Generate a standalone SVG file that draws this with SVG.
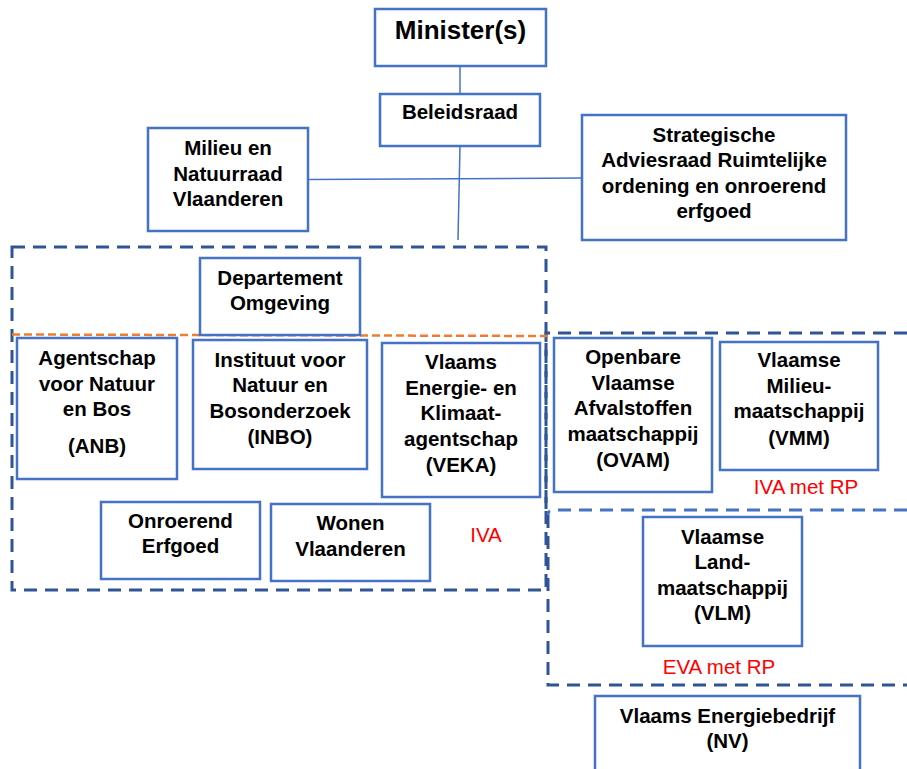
<svg xmlns="http://www.w3.org/2000/svg" width="907" height="769" viewBox="0 0 907 769">
<style>
.box{fill:#fff;stroke:#4472C4;stroke-width:2.5}
.t{font-family:"Liberation Sans",Arial,sans-serif;font-weight:bold;font-size:20.5px;fill:#000;text-anchor:middle}
.red{font-family:"Liberation Sans",Arial,sans-serif;font-size:20.5px;fill:#FF0000;text-anchor:middle}
.grp{fill:none;stroke:#2F5597;stroke-width:3;stroke-dasharray:13 8}
.grpl{fill:none;stroke:#4472C4;stroke-width:3;stroke-dasharray:13 8}
.orange{fill:none;stroke:#ED7D31;stroke-width:2.5;stroke-dasharray:8 4}
.conn{fill:none;stroke:#4472C4;stroke-width:1.5}
</style>
<rect width="907" height="769" fill="#fff"/>
<g id="groups">
<rect class="grp" x="12" y="247" width="534" height="343"/>
<path class="grp" d="M907 333 H546 V509"/>
<path class="grpl" d="M907 510 H553 Q548 510 548 515"/>
<path class="grp" d="M548 515 V685 H907"/>
<path class="orange" d="M12 334.5 L548 336"/>
</g>
<g id="connectors">
<line class="conn" x1="460" y1="67" x2="460" y2="94"/>
<line class="conn" x1="460" y1="146" x2="458" y2="240"/>
<line class="conn" x1="308" y1="179.5" x2="582" y2="178"/>
</g>
<g id="minister">
<rect class="box" x="375" y="9" width="171" height="57"/>
<text class="t" x="460.5" y="39" style="font-size:26px">Minister(s)</text>
</g>
<g id="beleidsraad">
<rect class="box" x="380" y="94" width="160" height="52"/>
<text class="t" x="460" y="119">Beleidsraad</text>
</g>
<g id="minaraad">
<rect class="box" x="148" y="128" width="160" height="103"/>
<text class="t" x="228" y="155">Milieu en</text>
<text class="t" x="228" y="180.5">Natuurraad</text>
<text class="t" x="228" y="206">Vlaanderen</text>
</g>
<g id="sarro">
<rect class="box" x="582" y="115" width="264" height="125"/>
<text class="t" x="714" y="141.5">Strategische</text>
<text class="t" x="714" y="167">Adviesraad Ruimtelijke</text>
<text class="t" x="714" y="192.5">ordening en onroerend</text>
<text class="t" x="714" y="218">erfgoed</text>
</g>
<g id="departement">
<rect class="box" x="200" y="258" width="160" height="77"/>
<text class="t" x="280" y="285">Departement</text>
<text class="t" x="280" y="310">Omgeving</text>
</g>
<g id="anb">
<rect class="box" x="17" y="338" width="160" height="141"/>
<text class="t" x="97" y="365">Agentschap</text>
<text class="t" x="97" y="390.5">voor Natuur</text>
<text class="t" x="97" y="416">en Bos</text>
<text class="t" x="97" y="453">(ANB)</text>
</g>
<g id="inbo">
<rect class="box" x="193" y="340" width="174" height="129"/>
<text class="t" x="280" y="366.5">Instituut voor</text>
<text class="t" x="280" y="392">Natuur en</text>
<text class="t" x="280" y="417.5">Bosonderzoek</text>
<text class="t" x="280" y="444">(INBO)</text>
</g>
<g id="veka">
<rect class="box" x="382" y="343" width="158" height="154"/>
<text class="t" x="461" y="369">Vlaams</text>
<text class="t" x="461" y="394.5">Energie- en</text>
<text class="t" x="461" y="420">Klimaat-</text>
<text class="t" x="461" y="445.5">agentschap</text>
<text class="t" x="461" y="471.5">(VEKA)</text>
</g>
<g id="ovam">
<rect class="box" x="554" y="338" width="158" height="154"/>
<text class="t" x="633" y="364">Openbare</text>
<text class="t" x="633" y="389.5">Vlaamse</text>
<text class="t" x="633" y="415">Afvalstoffen</text>
<text class="t" x="633" y="440.5">maatschappij</text>
<text class="t" x="633" y="466.5">(OVAM)</text>
</g>
<g id="vmm">
<rect class="box" x="720" y="342" width="158" height="128"/>
<text class="t" x="799" y="366.5">Vlaamse</text>
<text class="t" x="799" y="392.5">Milieu-</text>
<text class="t" x="799" y="418">maatschappij</text>
<text class="t" x="799" y="444.5">(VMM)</text>
</g>
<g id="label-iva-rp">
<text class="red" x="806" y="494">IVA met RP</text>
</g>
<g id="onroerend">
<rect class="box" x="101" y="502" width="159" height="77"/>
<text class="t" x="180.5" y="527.5">Onroerend</text>
<text class="t" x="180.5" y="553">Erfgoed</text>
</g>
<g id="wonen">
<rect class="box" x="271" y="504" width="159" height="77"/>
<text class="t" x="350.5" y="530">Wonen</text>
<text class="t" x="350.5" y="555.5">Vlaanderen</text>
</g>
<g id="label-iva">
<text class="red" x="486" y="542">IVA</text>
</g>
<g id="vlm">
<rect class="box" x="643" y="517" width="159" height="129"/>
<text class="t" x="722.5" y="543.5">Vlaamse</text>
<text class="t" x="722.5" y="568.5">Land-</text>
<text class="t" x="722.5" y="594.5">maatschappij</text>
<text class="t" x="722.5" y="620">(VLM)</text>
</g>
<g id="label-eva-rp">
<text class="red" x="719" y="673.5">EVA met RP</text>
</g>
<g id="veb">
<rect class="box" x="595" y="696" width="265" height="90"/>
<text class="t" x="727.5" y="722.5">Vlaams Energiebedrijf</text>
<text class="t" x="727.5" y="748">(NV)</text>
</g>
</svg>
